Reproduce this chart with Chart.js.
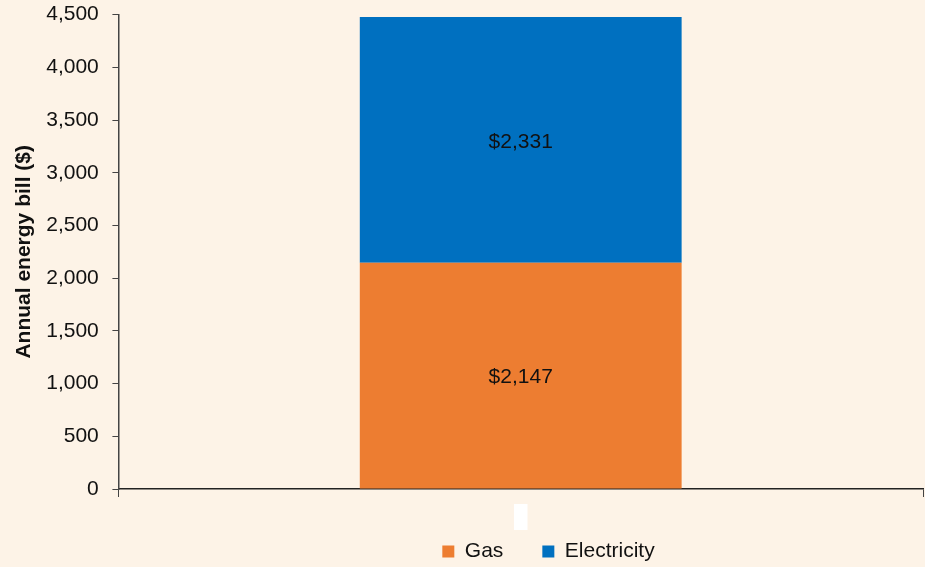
<!DOCTYPE html>
<html>
<head>
<meta charset="utf-8">
<script src="https://cdn.jsdelivr.net/npm/chart.js@4/dist/chart.umd.min.js"></script>
<style>
  html, body { margin: 0; padding: 0; background: #fdf3e7; }
  #wrap { width: 925px; height: 567px; }
</style>
</head>
<body>
<div id="wrap"><canvas id="chart"></canvas></div>
<script>
const categories = [' ']
const gasValues = [2147]
const electricityValues = [2331]
const seriesNames = ['Gas', 'Electricity']
const yTicks = [0, 500, 1000, 1500, 2000, 2500, 3000, 3500, 4000, 4500]

const fontFamily = '"Liberation Sans", Arial, sans-serif'

// values written in the middle of each bar segment
const segmentLabels = {
  id: 'segmentLabels',
  afterDatasetsDraw(chart) {
    const ctx = chart.ctx
    ctx.save()
    ctx.font = '21px ' + fontFamily
    ctx.fillStyle = '#111'
    ctx.textAlign = 'center'
    ctx.textBaseline = 'middle'
    chart.data.datasets.forEach((ds, i) => {
      chart.getDatasetMeta(i).data.forEach((bar, j) => {
        const v = ds.data[j]
        const mid = (bar.y + bar.base) / 2
        ctx.fillText('$' + v.toLocaleString('en-US'), bar.x, mid + 2)
      })
    })
    ctx.restore()
  }
}

// the legend in the original sits a little right of centre
const legendShift = {
  id: 'legendShift',
  afterLayout(chart) {
    chart.legend.left += 81
    chart.legend.right += 81
  }
}

new Chart(document.getElementById('chart'), {
  type: 'bar',
  data: {
    labels: categories,
    datasets: [
      { label: seriesNames[0], data: gasValues, backgroundColor: '#ed7d31' },
      { label: seriesNames[1], data: electricityValues, backgroundColor: '#0070c0' }
    ]
  },
  options: {
    responsive: true,
    maintainAspectRatio: false,
    animation: false,
    layout: { padding: { top: 0, right: 2, left: 12, bottom: -5 } },
    datasets: { bar: { categoryPercentage: 0.4, barPercentage: 1 } },
    scales: {
      x: {
        stacked: true,
        grid: { drawOnChartArea: false, tickLength: 8, color: '#444', offset: true },
        border: { color: '#222', width: 1.5 },
        ticks: {
          font: { size: 20, family: fontFamily, lineHeight: 1.4 },
          color: '#fff',
          padding: 6,
          showLabelBackdrop: true,
          backdropColor: '#ffffff',
          backdropPadding: { x: 4, y: -1 }
        }
      },
      y: {
        stacked: true,
        min: 0,
        max: 4500,
        afterBuildTicks: s => { s.ticks = yTicks.map(v => ({ value: v })) },
        grid: { drawOnChartArea: false, tickLength: 6, color: '#444' },
        border: { color: '#444', width: 1.5 },
        ticks: {
          font: { size: 21, family: fontFamily },
          color: '#111',
          padding: 2,
          callback: v => v.toLocaleString('en-US') + '  '
        },
        title: {
          display: true,
          text: 'Annual energy bill ($)',
          font: { size: 21, weight: 'bold', family: fontFamily },
          color: '#111',
          padding: { top: 0, bottom: 7 }
        }
      }
    },
    plugins: {
      legend: {
        position: 'bottom',
        labels: {
          boxWidth: 12,
          boxHeight: 12,
          padding: 4,
          color: '#111',
          font: { size: 21, family: fontFamily },
          generateLabels: chart => Chart.defaults.plugins.legend.labels.generateLabels(chart)
            .map((l, i) => ({ ...l, text: i === 0 ? l.text + '      ' : l.text }))
        }
      },
      tooltip: { enabled: false }
    }
  },
  plugins: [segmentLabels, legendShift]
})
</script>
</body>
</html>
